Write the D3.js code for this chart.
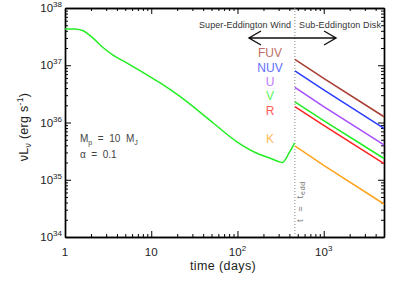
<!DOCTYPE html>
<html>
<head>
<meta charset="utf-8">
<script src="https://cdn.jsdelivr.net/npm/d3@7"></script>
<style>
  body { margin: 0; background: #fff; }
  svg { font-family: "Liberation Sans", "DejaVu Sans", sans-serif; }
</style>
</head>
<body>
<div id="chart"></div>
<script>
const F_WIDTH = 399;
const F_HEIGHT = 285;
const MARGINS = {left: 65, right: 15, top: 8, bottom: 48};

// green curve before t_edd (days, erg/s)
const windT = [1, 1.3, 1.6, 2.1, 2.8, 3.6, 5.25, 8, 12.7, 21.7, 52.7, 98.6, 168, 240, 300, 330, 400, 460];
const windL = [4.3e37, 4.3e37, 4.05e37, 3.0e37, 2.0e37, 1.51e37, 1.09e37, 7.5e36, 4.9e36, 2.82e36, 9.7e35, 4.6e35, 2.9e35, 2.37e35, 2.08e35, 2.0e35, 3.0e35, 4.4e35];

// disk bands after t_edd
const T_EDD = 463;
const bandNames = ["FUV", "NUV", "U", "V", "R", "K"];
const bandColors = ["#a83c32", "#2a3cff", "#a64dff", "#22ee22", "#ff2222", "#ffa41c"];
const diskT = [463, 1000, 5000];
const bandL = [
  [1.27e37, 5.9e36, 1.26e36],
  [8.0e36, 3.7e36, 7.9e35],
  [4.1e36, 1.9e36, 4.05e35],
  [2.3e36, 1.08e36, 2.35e35],
  [1.89e36, 8.9e35, 1.92e35],
  [3.89e35, 1.78e35, 3.77e34]
];
const labelY = [52, 67, 81, 95, 110, 138];

const xTicks = [1, 10, 100, 1000];
const yTicks = [1e34, 1e35, 1e36, 1e37, 1e38];

const svg = d3.select("#chart")
  .append("svg")
    .attr("width", F_WIDTH)
    .attr("height", F_HEIGHT);

const X_SCALE = d3.scaleLog()
  .domain([1, 5000])
  .range([MARGINS.left, F_WIDTH - MARGINS.right]);

const Y_SCALE = d3.scaleLog()
  .domain([1e34, 1e38])
  .range([F_HEIGHT - MARGINS.bottom, MARGINS.top]);

const x0 = MARGINS.left, x1 = F_WIDTH - MARGINS.right;
const y0 = F_HEIGHT - MARGINS.bottom, y1 = MARGINS.top;

// minor tick values
function minors(lo, hi) {
  const out = [];
  for (let d = lo; d < hi; d *= 10) {
    for (let k = 2; k <= 9; k++) if (d * k <= hi) out.push(d * k);
  }
  return out;
}
const xMinor = minors(1, 5000);
const yMinor = minors(1e34, 1e38);

function drawAxis(axis, tx, ty) {
  const g = svg.append("g")
    .attr("transform", "translate(" + tx + "," + ty + ")")
    .call(axis);
  g.selectAll("text").remove();
  g.select(".domain").attr("stroke", "#000").attr("stroke-width", 1.4);
  g.selectAll("line").attr("stroke", "#000").attr("stroke-width", 1);
  return g;
}

// bottom / top
drawAxis(d3.axisBottom(X_SCALE).tickValues(xTicks).tickSize(-6).tickSizeOuter(0), 0, y0);
drawAxis(d3.axisBottom(X_SCALE).tickValues(xMinor).tickSize(-3).tickSizeOuter(0), 0, y0);
drawAxis(d3.axisTop(X_SCALE).tickValues(xTicks).tickSize(-6).tickSizeOuter(0), 0, y1);
drawAxis(d3.axisTop(X_SCALE).tickValues(xMinor).tickSize(-3).tickSizeOuter(0), 0, y1);
// left / right
drawAxis(d3.axisLeft(Y_SCALE).tickValues(yTicks).tickSize(-6).tickSizeOuter(0), x0, 0);
drawAxis(d3.axisLeft(Y_SCALE).tickValues(yMinor).tickSize(-3).tickSizeOuter(0), x0, 0);
drawAxis(d3.axisRight(Y_SCALE).tickValues(yTicks).tickSize(-6).tickSizeOuter(0), x1, 0);
drawAxis(d3.axisRight(Y_SCALE).tickValues(yMinor).tickSize(-3).tickSizeOuter(0), x1, 0);

// x tick labels
const xLab = svg.append("g").attr("font-size", 11.5).attr("fill", "#222");
xTicks.forEach((t) => {
  const txt = xLab.append("text")
    .attr("x", X_SCALE(t))
    .attr("y", y0 + 19)
    .attr("text-anchor", "middle");
  const e = Math.round(Math.log10(t));
  if (e < 2) {
    txt.text(t);
  } else {
    txt.append("tspan").text("10");
    txt.append("tspan").attr("font-size", 8).attr("dy", -5).text(e);
  }
});

// y tick labels
yTicks.forEach((v) => {
  const e = Math.round(Math.log10(v));
  const txt = xLab.append("text")
    .attr("x", x0 - 3)
    .attr("y", Y_SCALE(v) + 4)
    .attr("text-anchor", "end");
  txt.append("tspan").text("10");
  txt.append("tspan").attr("font-size", 8).attr("dy", -5).text(e);
});

// axis titles
svg.append("text")
  .attr("x", 223)
  .attr("y", y0 + 33)
  .attr("text-anchor", "middle")
  .attr("font-size", 12.5)
  .attr("letter-spacing", 0.4)
  .attr("fill", "#222")
  .text("time (days)");

const yt = svg.append("text")
  .attr("transform", "translate(28,127) rotate(-90)")
  .attr("text-anchor", "middle")
  .attr("font-size", 12.5)
  .attr("letter-spacing", 0.3)
  .attr("fill", "#222");
yt.append("tspan").text("νL");
yt.append("tspan").attr("font-size", 8.5).attr("dy", 3).text("ν");
yt.append("tspan").attr("dy", -3).text(" (erg s");
yt.append("tspan").attr("font-size", 8.5).attr("dy", -5).text("-1");
yt.append("tspan").attr("dy", 5).text(")");

// t_edd dotted line
svg.append("line")
  .attr("x1", X_SCALE(T_EDD)).attr("x2", X_SCALE(T_EDD))
  .attr("y1", y1).attr("y2", y0)
  .attr("stroke", "#888")
  .attr("stroke-width", 1)
  .attr("stroke-dasharray", "1,2");

const line = d3.line()
  .x((d) => X_SCALE(d[0]))
  .y((d) => Y_SCALE(d[1]))
  .curve(d3.curveMonotoneX);

// wind curve
svg.append("path")
  .datum(windT.map((t, i) => [t, windL[i]]))
  .attr("d", line)
  .attr("fill", "none")
  .attr("stroke", "#22ee22")
  .attr("stroke-width", 1.5);

// disk bands
bandNames.forEach((name, i) => {
  svg.append("path")
    .datum(diskT.map((t, j) => [t, bandL[i][j]]))
    .attr("d", d3.line().x((d) => X_SCALE(d[0])).y((d) => Y_SCALE(d[1])))
    .attr("fill", "none")
    .attr("stroke", bandColors[i])
    .attr("stroke-width", 1.5);

  svg.append("text")
    .attr("x", 270)
    .attr("y", labelY[i] + 5)
    .attr("text-anchor", "middle")
    .attr("font-size", 12)
    .attr("fill", bandColors[i])
    .attr("opacity", 0.75)
    .text(name);
});

// regime labels
svg.append("text")
  .attr("x", 199)
  .attr("y", 28)
  .attr("font-size", 9)
  .attr("textLength", 92)
  .attr("lengthAdjust", "spacing")
  .attr("fill", "#333")
  .text("Super-Eddington Wind");
svg.append("text")
  .attr("x", 299)
  .attr("y", 28)
  .attr("font-size", 9)
  .attr("textLength", 82)
  .attr("lengthAdjust", "spacing")
  .attr("fill", "#333")
  .text("Sub-Eddington Disk");

// double arrow
const ay = 38, axL = 249, axR = 336;
svg.append("path")
  .attr("d", "M" + axL + "," + ay + "H" + axR +
    "M" + (axL + 12) + "," + (ay - 7) + "L" + axL + "," + ay + "L" + (axL + 12) + "," + (ay + 7) +
    "M" + (axR - 12) + "," + (ay - 7) + "L" + axR + "," + ay + "L" + (axR - 12) + "," + (ay + 7))
  .attr("fill", "none")
  .attr("stroke", "#111")
  .attr("stroke-width", 1.4);

// parameters
const p1 = svg.append("text")
  .attr("x", 80).attr("y", 142)
  .attr("font-size", 10)
  .attr("fill", "#444")
  .attr("xml:space", "preserve");
p1.append("tspan").text("M");
p1.append("tspan").attr("font-size", 7).attr("dy", 3).text("p");
p1.append("tspan").attr("dy", -3).text("  =  10  M");
p1.append("tspan").attr("font-size", 7).attr("dy", 3).text("J");

svg.append("text")
  .attr("x", 80).attr("y", 158)
  .attr("font-size", 10)
  .attr("fill", "#444")
  .attr("xml:space", "preserve")
  .text("α  =  0.1");

// t = t_edd rotated label
const te = svg.append("text")
  .attr("transform", "translate(303,222) rotate(-90)")
  .attr("font-size", 9.5)
  .attr("letter-spacing", 0.8)
  .attr("fill", "#777")
  .attr("xml:space", "preserve");
te.append("tspan").text("t  =  t");
te.append("tspan").attr("font-size", 7).attr("dy", 2).text("edd");
</script>
</body>
</html>
